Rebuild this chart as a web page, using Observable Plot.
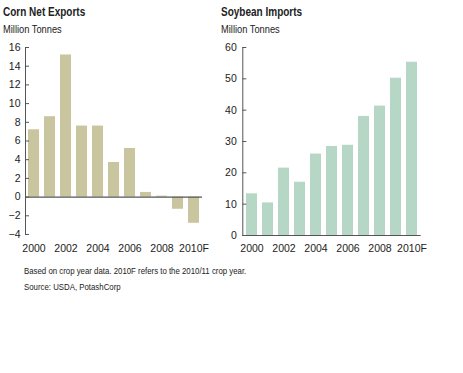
<!DOCTYPE html>
<html><head><meta charset="utf-8">
<script src="https://cdn.jsdelivr.net/npm/d3@7"></script>
<script src="https://cdn.jsdelivr.net/npm/@observablehq/plot@0.6"></script>
<style>
body{margin:0;background:#fff;}
#wrap{position:relative;width:463px;height:373px;font-family:"Liberation Sans",Arial,sans-serif;color:#222;}
.t{position:absolute;white-space:nowrap;transform-origin:0 50%;}
.title{font-weight:bold;font-size:12.5px;line-height:12.5px;transform:scaleX(0.8);}
.sub{font-size:10px;line-height:10px;transform:scaleX(0.93);}
.note{font-size:9px;line-height:9px;transform:scaleX(0.87);}
.chart{position:absolute;top:36px;}
</style></head>
<body>
<div id="wrap">
  <div class="t title" style="left:3px;top:6px">Corn Net Exports</div>
  <div class="t sub" style="left:3px;top:25px">Million Tonnes</div>
  <div class="t title" style="left:221px;top:6px">Soybean Imports</div>
  <div class="t sub" style="left:221px;top:25px">Million Tonnes</div>
  <div id="left" class="chart" style="left:0px"></div>
  <div id="right" class="chart" style="left:215px"></div>
  <div class="t note" style="left:24px;top:267px">Based on crop year data. 2010F refers to the 2010/11 crop year.</div>
  <div class="t note" style="left:24px;top:283px">Source: USDA, PotashCorp</div>
</div>
<script>
const years = ["2000","2001","2002","2003","2004","2005","2006","2007","2008","2009","2010F"];
const cornNetExports = [7.2, 8.6, 15.2, 7.6, 7.6, 3.7, 5.2, 0.5, 0.1, -1.3, -2.8];
const soybeanImports = [13.3, 10.4, 21.5, 17.0, 26.0, 28.4, 28.8, 38.0, 41.3, 50.2, 55.3];
const yearTickLabels = ["2000","2002","2004","2006","2008","2010F"];
const cornTicks = [-4,-2,0,2,4,6,8,10,12,14,16];
const soyTicks = [0,10,20,30,40,50,60];

const font = '"Liberation Sans",Arial,sans-serif';
const axisColor = "#555";

const cornData = years.map((y,i)=>({year:y, value:cornNetExports[i]}));
const soyData = years.map((y,i)=>({year:y, value:soybeanImports[i]}));

const left = Plot.plot({
  width:215, height:225,
  marginLeft:25, marginRight:13, marginTop:11, marginBottom:27,
  style:{fontFamily:font, color:"#222", background:"transparent"},
  x:{domain:years, paddingInner:0.3, paddingOuter:0.11},
  y:{domain:[-4,16]},
  marks:[
    Plot.barY(cornData,{x:"year", y:"value", fill:"#c9c59e"}),
    Plot.ruleY([0],{stroke:"#555", strokeWidth:1.2}),
    Plot.frame({anchor:"left", stroke:axisColor}),
    Plot.axisY({ticks:cornTicks, tickSize:-4, tickPadding:9, stroke:axisColor, fontSize:10.5, label:null}),
    Plot.axisX({ticks:yearTickLabels, tickSize:0, tickPadding:10, fontSize:10.5, label:null})
  ]
});
document.getElementById("left").appendChild(left);

const right = Plot.plot({
  width:225, height:225,
  marginLeft:27.3, marginRight:19.3, marginTop:11, marginBottom:26,
  style:{fontFamily:font, color:"#222", background:"transparent"},
  x:{domain:years, paddingInner:0.32, paddingOuter:0.165},
  y:{domain:[0,60]},
  marks:[
    Plot.barY(soyData,{x:"year", y:"value", fill:"#b7d7c6"}),
    Plot.ruleY([0],{stroke:axisColor}),
    Plot.frame({anchor:"left", stroke:axisColor}),
    Plot.axisY({ticks:soyTicks, tickSize:-4, tickPadding:10, stroke:axisColor, fontSize:10.5, label:null}),
    Plot.axisX({ticks:yearTickLabels, tickSize:0, tickPadding:9, fontSize:10.5, label:null})
  ]
});
document.getElementById("right").appendChild(right);
</script>
</body></html>
